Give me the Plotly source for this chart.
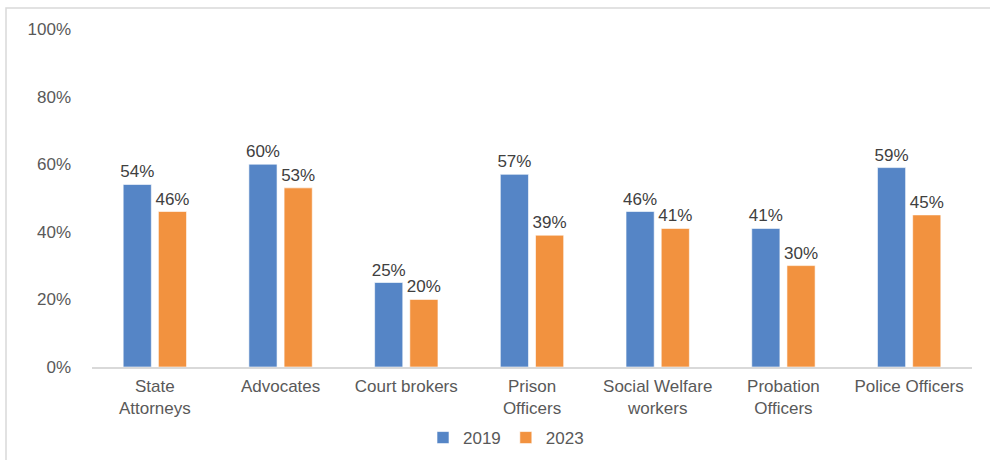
import plotly.graph_objects as go

# Survey results by occupational group
categories = ["State<br>Attorneys", "Advocates", "Court brokers", "Prison<br>Officers",
              "Social Welfare<br>workers", "Probation<br>Officers", "Police Officers"]
values_2019 = [54, 60, 25, 57, 46, 41, 59]
values_2023 = [46, 53, 20, 39, 41, 30, 45]
series_names = ["2019", "2023"]

BLUE = "#5585C6"
ORANGE = "#F2923F"
TEXT = "#595959"
LABEL = "#404040"
FONT = "Liberation Sans, Arial, sans-serif"
FS = 17

# Pixel layout of the plotting area
W, H = 990, 460
L, R, T, B = 92, 18, 29, 93
pw, ph = W - L - R, H - T - B

def px_x(x):
    return (x - L) / pw

def px_y(y):
    return (H - B - y) / ph

fig = go.Figure()
for name, vals, col in [(series_names[0], values_2019, BLUE),
                        (series_names[1], values_2023, ORANGE)]:
    fig.add_trace(go.Bar(
        x=categories, y=vals, name=name,
        marker=dict(color=col, line=dict(color="rgba(255,255,255,0.6)", width=1)),
        texttemplate="%{y}", textposition="outside", cliponaxis=False,
        constraintext="none",
        textfont=dict(family=FONT, size=FS, color=LABEL),
    ))

fig.update_layout(
    width=W, height=H,
    margin=dict(l=L, r=R, t=T, b=B, autoexpand=False),
    paper_bgcolor="white", plot_bgcolor="white",
    barmode="group", bargap=0.44, bargroupgap=0.2,
    font=dict(family=FONT, size=FS, color=TEXT),
    showlegend=True,
    legend=dict(orientation="h", xref="container", x=506 / W, xanchor="center",
                yref="container", y=1 - 438 / H, yanchor="middle",
                font=dict(family=FONT, size=FS, color=TEXT),
                itemwidth=30, traceorder="normal"),
    xaxis=dict(showline=True, linecolor="#D9D9D9", linewidth=1.5, automargin=False,
               ticks="", ticklabelstandoff=3,
               tickfont=dict(family=FONT, size=FS, color=TEXT)),
    yaxis=dict(range=[0, 100], dtick=20, ticksuffix="%", showgrid=False,
               zeroline=False, showline=False, ticklabelstandoff=20, automargin=False,
               tickfont=dict(family=FONT, size=FS, color=TEXT)),
    shapes=[dict(type="rect", xref="paper", yref="paper",
                 x0=px_x(6), x1=px_x(1000), y0=px_y(470), y1=px_y(8),
                 line=dict(color="#D9D9D9", width=1.5), fillcolor="rgba(0,0,0,0)",
                 layer="below")],
)

fig.write_html("out.html")
